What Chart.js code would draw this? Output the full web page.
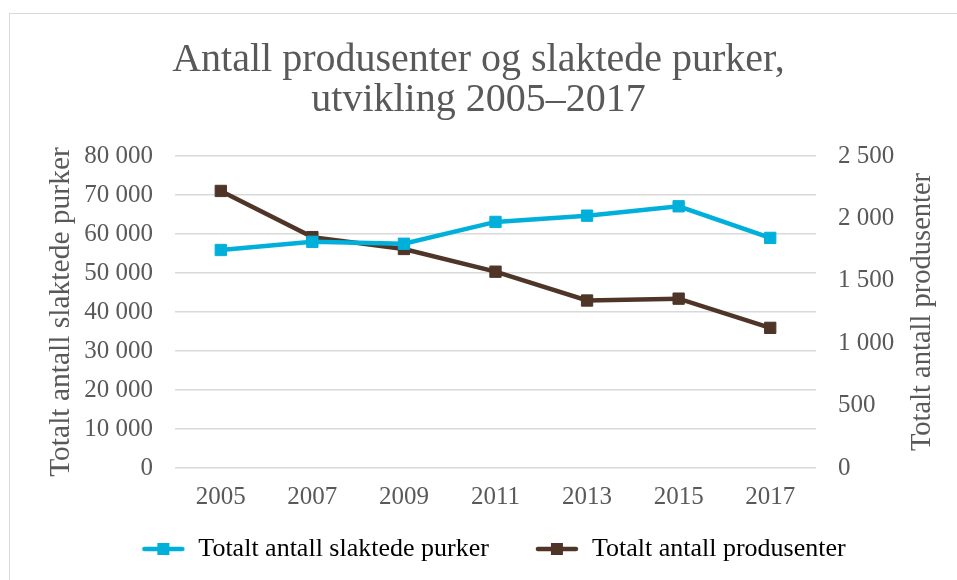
<!DOCTYPE html>
<html>
<head>
<meta charset="utf-8">
<script src="https://cdn.jsdelivr.net/npm/chart.js@4"></script>
<style>
  html, body { margin: 0; padding: 0; background: #fff; }
  #wrap { position: relative; width: 957px; height: 580px; overflow: hidden; }
  #frame { position: absolute; left: 9px; top: 13px; width: 1000px; height: 600px;
           border-left: 1px solid #d9d9d9; border-top: 1px solid #d9d9d9; }
  canvas { position: absolute; left: 0; top: 0; }
</style>
</head>
<body>
<div id="wrap">
  <div id="frame"></div>
  <canvas id="chart" width="957" height="580"></canvas>
</div>
<script>
// ── Data ──────────────────────────────────────────────────────────────────────
const years = ['2005', '2007', '2009', '2011', '2013', '2015', '2017'];
const slaktedePurker = [55900, 58000, 57500, 63100, 64700, 67100, 59000];
const produsenter = [2220, 1850, 1755, 1573, 1342, 1357, 1123];

const TITLE = ['Antall produsenter og slaktede purker,', 'utvikling 2005–2017'];
const LABEL_PURKER = 'Totalt antall slaktede purker';
const LABEL_PROD = 'Totalt antall produsenter';

// ── Style ─────────────────────────────────────────────────────────────────────
const BLUE = '#00b0da';
const BROWN = '#4e3527';
const GREY = '#595959';
const FONT = "'Liberation Serif', serif";

Chart.defaults.color = GREY;
Chart.defaults.font.family = FONT;

const fmt = v => String(v).replace(/\B(?=(\d{3})+(?!\d))/g, ' ');

// small line + square swatch for the legend
function swatch(color) {
  const c = document.createElement('canvas');
  c.width = 44; c.height = 14;
  const g = c.getContext('2d');
  g.strokeStyle = color; g.lineWidth = 4.5; g.lineCap = 'round';
  g.beginPath(); g.moveTo(3, 7); g.lineTo(41, 7); g.stroke();
  g.fillStyle = color;
  g.fillRect(16, 1, 12, 12);
  return c;
}

// right axis title reads bottom-to-top like the left one,
// and the legend row sits a bit right of canvas centre
const extras = {
  id: 'extras',
  afterLayout(chart) {
    chart.legend.left += 15;
    chart.legend.right += 15;
  },
  afterDraw(chart) {
    const { ctx, chartArea } = chart;
    ctx.save();
    ctx.translate(923, (chartArea.top + chartArea.bottom) / 2);
    ctx.rotate(-Math.PI / 2);
    ctx.font = `28.5px ${FONT}`;
    ctx.fillStyle = GREY;
    ctx.textAlign = 'center';
    ctx.textBaseline = 'middle';
    ctx.fillText(LABEL_PROD, 0, 0);
    ctx.restore();
  }
};

const ctx = document.getElementById('chart').getContext('2d');
new Chart(ctx, {
  type: 'line',
  data: {
    labels: years,
    datasets: [
      {
        label: LABEL_PURKER, data: slaktedePurker, yAxisID: 'y',
        borderColor: BLUE, backgroundColor: BLUE, borderWidth: 4.5,
        pointStyle: 'rect', pointRadius: 8, pointBorderWidth: 1, tension: 0
      },
      {
        label: LABEL_PROD, data: produsenter, yAxisID: 'y2',
        borderColor: BROWN, backgroundColor: BROWN, borderWidth: 4.5,
        pointStyle: 'rect', pointRadius: 8, pointBorderWidth: 1, tension: 0
      }
    ]
  },
  plugins: [extras],
  options: {
    responsive: false, animation: false,
    layout: { padding: { left: 0, right: 0, top: 0, bottom: 8 } },
    plugins: {
      title: {
        display: true, text: TITLE, color: GREY,
        font: { size: 40, weight: 'normal', lineHeight: 1.0 },
        padding: { top: 40, bottom: 36 }
      },
      legend: {
        position: 'bottom',
        labels: {
          font: { size: 26 }, color: GREY, padding: 20,
          usePointStyle: true, pointStyleWidth: 44,
          generateLabels: chart => chart.data.datasets.map((ds, i) => ({
            // trailing nbsp widens the gap between the two legend items
            text: i === 0 ? ds.label + '\u00a0'.repeat(4) : ds.label,
            pointStyle: swatch(ds.borderColor),
            fillStyle: ds.borderColor, strokeStyle: ds.borderColor,
            lineWidth: 0, datasetIndex: i, hidden: false
          }))
        }
      },
      tooltip: { enabled: false }
    },
    scales: {
      x: {
        offset: true,
        grid: { display: false, drawTicks: false },
        border: { display: false },
        ticks: { font: { size: 25 }, color: GREY, padding: 14 },
        afterFit: s => { s.height = 48; }
      },
      y: {
        position: 'left', min: 0, max: 80000,
        grid: { color: '#d9d9d9', lineWidth: 1.5, drawTicks: false },
        border: { display: false },
        ticks: { stepSize: 10000, font: { size: 25 }, color: GREY, padding: 22, callback: v => fmt(v) },
        title: { display: true, text: LABEL_PURKER, color: GREY, font: { size: 29.5 }, padding: { top: 44, bottom: 0 } },
        afterFit: s => { s.width = 175; }
      },
      y2: {
        position: 'right', min: 0, max: 2500,
        grid: { display: false, drawTicks: false },
        border: { display: false },
        ticks: { stepSize: 500, font: { size: 25 }, color: GREY, padding: 22, callback: v => fmt(v) },
        afterFit: s => { s.width = 141; }
      }
    }
  }
});
</script>
</body>
</html>
